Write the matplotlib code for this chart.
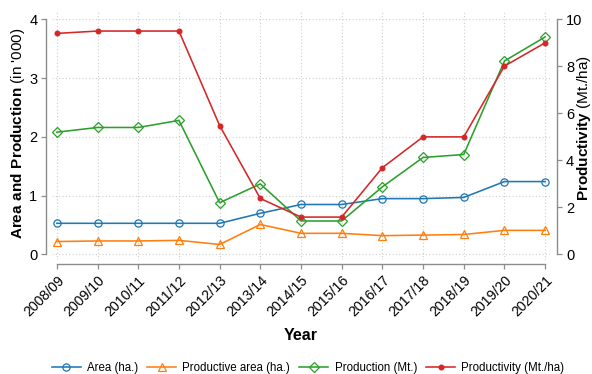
import matplotlib
matplotlib.use("Agg")
import matplotlib.pyplot as plt

plt.rcParams["font.family"] = ["Liberation Sans", "DejaVu Sans"]
plt.rcParams["mathtext.fontset"] = "custom"
plt.rcParams["mathtext.rm"] = "Liberation Sans"
plt.rcParams["mathtext.bf"] = "Liberation Sans:bold"

years = ["2008/09", "2009/10", "2010/11", "2011/12", "2012/13", "2013/14", "2014/15",
         "2015/16", "2016/17", "2017/18", "2018/19", "2019/20", "2020/21"]
area = [0.53, 0.53, 0.53, 0.53, 0.53, 0.70, 0.85, 0.85, 0.95, 0.95, 0.97, 1.24, 1.24]
productive_area = [0.22, 0.23, 0.23, 0.24, 0.17, 0.51, 0.36, 0.36, 0.32, 0.33, 0.34, 0.41, 0.41]
production = [2.08, 2.16, 2.16, 2.28, 0.88, 1.20, 0.57, 0.57, 1.15, 1.65, 1.70, 3.29, 3.70]
productivity = [9.40, 9.50, 9.50, 9.50, 5.48, 2.38, 1.59, 1.59, 3.69, 5.00, 5.00, 8.01, 9.00]

C_BLUE, C_ORANGE, C_GREEN, C_RED = "#1f77b4", "#ff7f0e", "#2ca02c", "#d62728"
SPINE = "#8c8c8c"

fig = plt.figure(figsize=(5.92, 3.74), dpi=100)
ax = fig.add_axes([52 / 592, 1 - 260 / 374, (550 - 52) / 592, (260 - 12) / 374])
ax2 = ax.twinx()

# spines first: repositioning a spine resets the axis ticks
for a in (ax, ax2):
    for s in a.spines.values():
        s.set_visible(False)
ax.spines["left"].set_visible(True)
ax.spines["left"].set_position(("outward", 4))
ax.spines["bottom"].set_visible(True)
ax.spines["bottom"].set_position(("outward", 3))
ax2.spines["right"].set_visible(True)
ax2.spines["right"].set_position(("outward", 5))

x = list(range(len(years)))
lw = 1.15
ax.plot(x, area, color=C_BLUE, lw=lw, marker="o", ms=5.2, mfc="none", mew=0.9, label="Area (ha.)")
ax.plot(x, productive_area, color=C_ORANGE, lw=lw, marker="^", ms=5.2, mfc="none", mew=0.9,
        label="Productive area (ha.)")
ax.plot(x, production, color=C_GREEN, lw=lw, marker="D", ms=5, mfc="none", mew=0.9,
        label="Production (Mt.)")
ax2.plot(x, productivity, color=C_RED, lw=lw, marker="o", ms=3.3, mfc=C_RED, mec=C_RED,
         label="Productivity (Mt./ha)")

ax.set_xlim(-0.12, 12.12)
ax.set_ylim(-0.094, 4.124)
ax2.set_ylim(-0.094 * 2.5, 4.124 * 2.5)

ax.spines["left"].set_bounds(0, 4)
ax.spines["bottom"].set_bounds(0, 12)
ax2.spines["right"].set_bounds(0, 10)
for a, side in ((ax, "left"), (ax, "bottom"), (ax2, "right")):
    a.spines[side].set_color(SPINE)
    a.spines[side].set_linewidth(1.0)

ax.set_xticks(x)
ax.set_yticks([0, 1, 2, 3, 4])
ax2.set_yticks([0, 2, 4, 6, 8, 10])
for a in (ax, ax2):
    a.tick_params(length=3.5, width=0.9, color=SPINE, labelsize=10.5, pad=3)
ax.tick_params(axis="x", pad=3, labelsize=10.2)
ax.set_xticklabels(years, rotation=45, ha="right", va="top", rotation_mode="anchor")

ax.grid(True, color="#cfcfcf", lw=0.8, linestyle=(0, (1, 2)))
ax.set_axisbelow(True)

fig.text(301 / 592, 1 - 336 / 374, "Year", ha="center", va="center", fontsize=11.5,
         fontweight="bold")
fig.text(18 / 592, 1 - 133 / 374, r"$\bf{Area\ and\ Production}$ (in '000)", rotation=90,
         ha="center", va="center", fontsize=11)
fig.text(584 / 592, 1 - 128 / 374, r"$\bf{Productivity}$ (Mt./ha)", rotation=90,
         ha="center", va="center", fontsize=11)

handles = ax.get_lines() + ax2.get_lines()
fig.legend(handles, [h.get_label() for h in handles], loc="center", ncol=4, frameon=False,
           bbox_to_anchor=(308 / 592, 1 - 368 / 374), fontsize=8.3, handlelength=2.5,
           handletextpad=0.55, columnspacing=0.8, borderaxespad=0)

fig.savefig("out.png", dpi=100)
